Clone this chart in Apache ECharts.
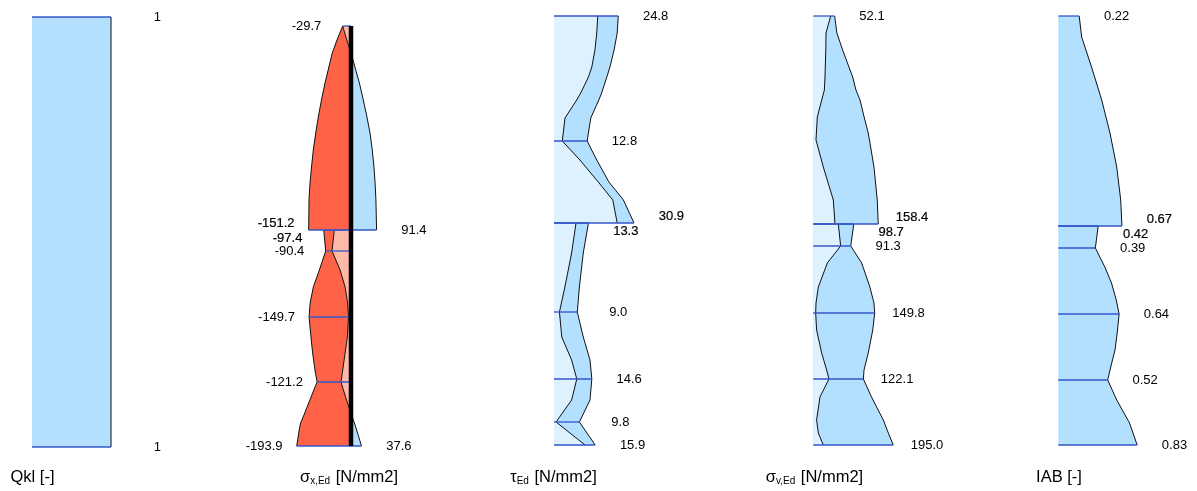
<!DOCTYPE html>
<html>
<head>
<meta charset="utf-8">
<script src="https://cdn.jsdelivr.net/npm/echarts@6/dist/echarts.min.js"></script>
<style>
    html, body { margin: 0; padding: 0; background: #fff; }
    #chart { width: 1197px; height: 491px; }
</style>
</head>
<body>
<div id="chart"></div>
<script>
// stations along the member (cm from the top)
// a station written twice = jump in the diagram
const qklPos = [1, 431];
const qklVal = [1, 1];
const qklSections = [1, 431];

const sxPos = [10, 24, 37, 51, 67, 84, 101, 117, 134, 151, 167, 184, 214,
               214, 235, 254, 271, 287, 301, 321, 337, 354, 366, 375, 384, 394, 399, 407, 414, 430];
const sxMin = [-29.7, -50, -67, -79, -92.9, -105.5, -116.8, -126, -134.6, -141, -146.4, -150, -151.2,
               -97.4, -90.4, -113, -134.5, -146, -149.7, -143, -137, -128.6, -121.2, -134, -147, -161, -168, -180, -185, -193.9];
const sxMax = [-29.7, -15, 0, 14, 30, 44, 57, 68, 76, 82, 86, 89, 91.4,
               -59.6, -67.9, -39, -21, -12, -9, -13, -21, -29.6, -35.7, -26, -16, -4, 2, 12, 20, 37.6];
const sxSections = [10, 214, 235, 301, 366, 430];

const tauPos = [0, 17, 34, 51, 61, 77, 84, 102, 125, 144, 166, 184, 207,
                207, 237, 271, 296, 321, 344, 363, 384, 406, 429];
const tauOuter = [24.8, 24.4, 23.2, 21.6, 20.4, 18.4, 17.3, 14.2, 12.8, 16.5, 21.2, 26.8, 30.9,
                  13.3, 11.3, 9.8, 9.0, 11.3, 13.9, 14.6, 13.9, 9.8, 15.9];
const tauInner = [16.9, 16.5, 15.8, 14.6, 13.3, 10.3, 8.75, 4.25, 3.2, 10.0, 17.1, 22.7, 24.4,
                  8.5, 6.8, 4.2, 2.1, 3.0, 6.8, 8.8, 6.8, 0.8, 12.0];
const tauSections = [0, 125, 207, 296, 363, 406, 429];

const svPos = [0, 17, 34, 61, 74, 84, 101, 117, 124, 151, 184, 208,
               208, 230, 247, 271, 287, 297, 314, 337, 354, 363, 381, 404, 417, 429];
const svOuter = [52.1, 57.5, 71.6, 96, 104, 114, 124, 134, 137, 148, 156, 158.4,
                 98.7, 91.3, 118, 138, 148, 149.8, 145, 134, 123.7, 122.1, 142, 170.8, 183, 195.0];
const svInner = [42.4, 31, 30.5, 28.5, 27, 20.5, 9.8, 7.5, 6.6, 24.4, 48.8, 52.9,
                 61, 66.7, 34.2, 12.3, 6.6, 5.8, 8.1, 20.4, 32.5, 38.2, 16.3, 8.1, 12.3, 24.4];
const svSections = [0, 208, 230, 297, 363, 429];

const iabPos = [0, 21, 51, 84, 117, 151, 184, 210,
                210, 232, 251, 267, 284, 298, 317, 334, 351, 364, 384, 407, 429];
const iabVal = [0.22, 0.246, 0.35, 0.457, 0.544, 0.615, 0.657, 0.67,
                0.42, 0.39, 0.49, 0.56, 0.61, 0.64, 0.62, 0.597, 0.552, 0.52, 0.615, 0.75, 0.83];
const iabSections = [0, 210, 232, 298, 364, 429];

const BLUE = '#b3e0ff';
const PALE = '#def1ff';
const RED = '#ff6347';
const PINK = '#ffb9a9';
const SECTION = '#3556c9';
const FONT = '"Liberation Sans", Arial, sans-serif';

// split the points into runs, a new run starts where a station repeats
function runs(pos) {
    const out = [];
    let start = 0;
    for (let i = 1; i < pos.length; i++) {
        if (pos[i] === pos[i - 1]) {
            out.push([start, i - 1]);
            start = i;
        }
    }
    out.push([start, pos.length - 1]);
    return out;
}

function band(api, pos, a, b, i0, i1, color) {
    const pts = [];
    for (let i = i0; i <= i1; i++) pts.push(api.coord([a[i], pos[i]]));
    for (let i = i1; i >= i0; i--) pts.push(api.coord([b[i], pos[i]]));
    return { type: 'polygon', shape: { points: pts }, style: { fill: color } };
}

function curve(api, pos, v, i0, i1) {
    const pts = [];
    for (let i = i0; i <= i1; i++) pts.push(api.coord([v[i], pos[i]]));
    return { type: 'polyline', shape: { points: pts }, style: { stroke: '#111', lineWidth: 1, fill: null } };
}

function sectionLine(api, lo, hi, s) {
    const a = api.coord([lo, s]);
    const b = api.coord([hi, s]);
    return { type: 'line', shape: { x1: a[0], y1: a[1], x2: b[0], y2: b[1] },
             style: { stroke: SECTION, lineWidth: 1.3 } };
}

function valueLabel(api, v, s, dy, strong, text, side) {
    const p = api.coord([v, s]);
    return {
        type: 'text',
        x: p[0] + (side > 0 ? 50 : -51),
        y: p[1] + dy,
        style: {
            text: text,
            fontSize: 13,
            fontFamily: FONT,
            fill: '#000',
            align: side > 0 ? 'right' : 'left',
            verticalAlign: 'middle',
            stroke: strong ? '#000' : null,
            lineWidth: strong ? 0.2 : 0
        }
    };
}

// one-sided diagram (Qkl, tau, sigma_v, IAB)
function profileSeries(index, pos, outer, inner, sections, dec) {
    return {
        type: 'custom',
        xAxisIndex: index,
        yAxisIndex: index,
        clip: false,
        silent: true,
        data: [[0, 0]],
        renderItem: function (params, api) {
            const zero = pos.map(() => 0);
            const children = [];
            const parts = runs(pos);
            parts.forEach(([i0, i1]) => {
                children.push(band(api, pos, zero, outer, i0, i1, BLUE));
                if (inner) children.push(band(api, pos, zero, inner, i0, i1, PALE));
            });
            parts.forEach(([i0, i1]) => {
                children.push(curve(api, pos, outer, i0, i1));
                if (inner) children.push(curve(api, pos, inner, i0, i1));
            });
            sections.forEach(s => {
                const idx = [];
                pos.forEach((p, i) => { if (p === s) idx.push(i); });
                idx.forEach(i => children.push(sectionLine(api, 0, outer[i], s)));
                const dys = idx.length > 1 ? [-7, 8] : [0];
                idx.forEach((i, k) => {
                    children.push(valueLabel(api, outer[i], s, dys[k], idx.length > 1,
                                             outer[i].toFixed(dec), 1));
                });
            });
            return { type: 'group', children: children };
        }
    };
}

// sigma_x: min / max envelopes on both sides of the member axis
function stressSeries(index, pos, vmin, vmax, sections) {
    return {
        type: 'custom',
        xAxisIndex: index,
        yAxisIndex: index,
        clip: false,
        silent: true,
        data: [[0, 0]],
        renderItem: function (params, api) {
            const zero = pos.map(() => 0);
            const negMax = vmax.map(v => Math.min(v, 0));
            const posMax = vmax.map(v => Math.max(v, 0));
            const children = [];
            const parts = runs(pos);
            parts.forEach(([i0, i1]) => {
                children.push(band(api, pos, vmin, negMax, i0, i1, RED));
                children.push(band(api, pos, negMax, zero, i0, i1, PINK));
                children.push(band(api, pos, zero, posMax, i0, i1, BLUE));
            });
            parts.forEach(([i0, i1]) => {
                children.push(curve(api, pos, vmin, i0, i1));
                children.push(curve(api, pos, vmax, i0, i1));
            });
            sections.forEach(s => {
                const idx = [];
                pos.forEach((p, i) => { if (p === s) idx.push(i); });
                idx.forEach(i => children.push(
                    sectionLine(api, Math.min(vmin[i], 0), Math.max(vmax[i], 0), s)));
                const left = idx.filter(i => vmin[i] < 0);
                const right = idx.filter(i => vmax[i] > 0);
                [[left, vmin, -1], [right, vmax, 1]].forEach(([list, arr, side]) => {
                    const dys = list.length > 1 ? [-7, 8] : [0];
                    list.forEach((i, k) => {
                        children.push(valueLabel(api, arr[i], s, dys[k], list.length > 1,
                                                 arr[i].toFixed(1), side));
                    });
                });
            });
            const a = api.coord([0, pos[0]]);
            const b = api.coord([0, pos[pos.length - 1]]);
            children.push({ type: 'line', shape: { x1: a[0], y1: a[1], x2: b[0], y2: b[1] },
                            style: { stroke: '#000', lineWidth: 4.5 } });
            return { type: 'group', children: children };
        }
    };
}

// grid placement: zero line x and pixels per unit of each diagram
const panels = [
    { left: 32, min: 0, max: 1, scale: 79 },
    { left: 295, min: -200, max: 100, scale: 0.28 },
    { left: 554, min: 0, max: 35, scale: 2.59 },
    { left: 813.3, min: 0, max: 200, scale: 0.41 },
    { left: 1058.3, min: 0, max: 1, scale: 95 }
];

const titles = [
    { x: 32.5, text: 'Qkl [-]' },
    { x: 349, text: '{g|σ}{s|x,Ed} [N/mm2]' },
    { x: 553.5, text: '{g|τ}{s|Ed} [N/mm2]' },
    { x: 814.5, text: '{g|σ}{s|v,Ed} [N/mm2]' },
    { x: 1059, text: 'IAB [-]' }
];

const chart = echarts.init(document.getElementById('chart'), null, { renderer: 'canvas' });

chart.setOption({
    animation: false,
    backgroundColor: '#fff',
    grid: panels.map(p => ({
        left: p.left, top: 16, height: 430,
        width: (p.max - p.min) * p.scale
    })),
    xAxis: panels.map((p, i) => ({
        type: 'value', gridIndex: i, min: p.min, max: p.max, show: false
    })),
    yAxis: panels.map((p, i) => ({
        type: 'value', gridIndex: i, min: 0, max: 430, inverse: true, show: false
    })),
    series: [
        profileSeries(0, qklPos, qklVal, null, qklSections, 0),
        stressSeries(1, sxPos, sxMin, sxMax, sxSections),
        profileSeries(2, tauPos, tauOuter, tauInner, tauSections, 1),
        profileSeries(3, svPos, svOuter, svInner, svSections, 1),
        profileSeries(4, iabPos, iabVal, null, iabSections, 2)
    ],
    graphic: titles.map(t => ({
        type: 'text',
        x: t.x,
        y: 477,
        silent: true,
        style: {
            text: t.text,
            fontSize: 16.5,
            fontFamily: FONT,
            fill: '#000',
            align: 'center',
            verticalAlign: 'middle',
            rich: {
                g: { fontSize: 16.5, fontFamily: FONT },
                s: { fontSize: 10, fontFamily: FONT, padding: [9, 1, 0, 0], verticalAlign: 'bottom' }
            }
        }
    }))
});

window.addEventListener('resize', function () {
    chart.resize();
});
</script>
</body>
</html>
